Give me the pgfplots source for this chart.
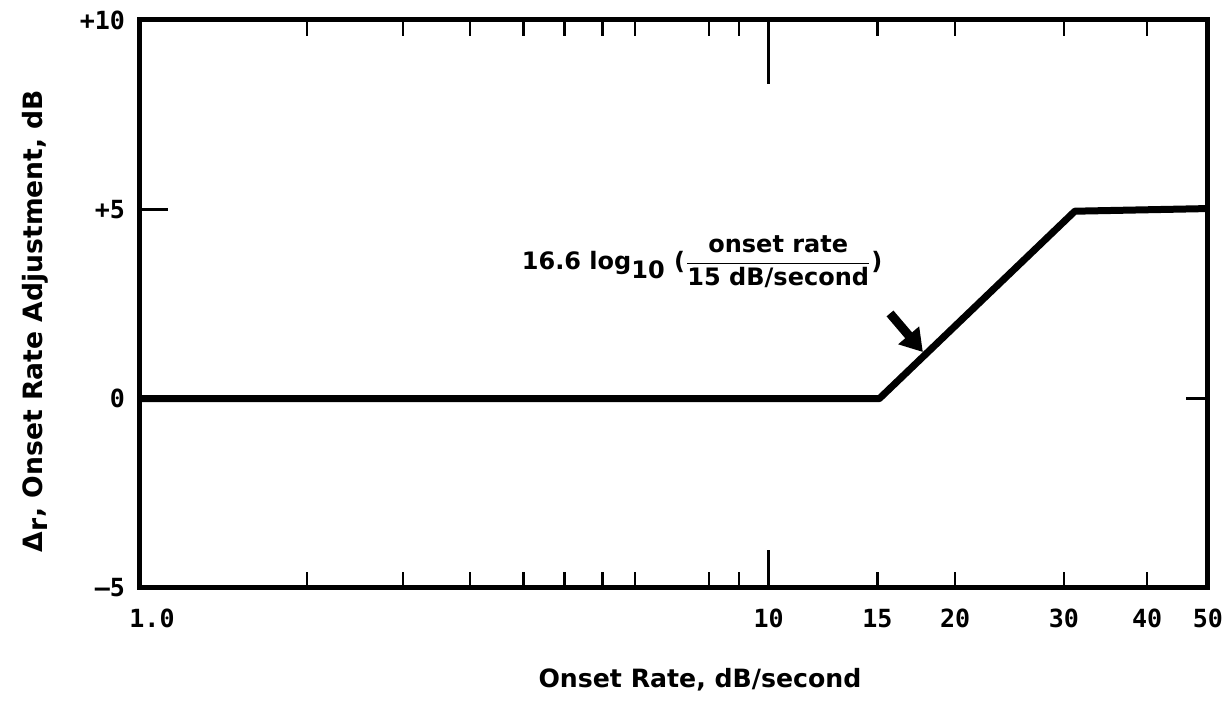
\documentclass[border=0pt]{standalone}
\usepackage{pgfplots}
\pgfplotsset{compat=1.18}
\usetikzlibrary{arrows.meta}
\usepackage{fontspec}
\setmainfont{DejaVu Sans}
\newfontfamily\tickfont{DejaVu Sans Mono}
\begin{document}
\begin{tikzpicture}
\path[use as bounding box] (-70pt,-58pt) rectangle (544pt,294pt);
\begin{axis}[
  at={(0,0)}, anchor=south west,
  scale only axis, width=534pt, height=284pt,
  xmode=log, xmin=1, xmax=50, ymin=-5, ymax=10,
  xtick={1,1.844,2.62,3.35,4.07,4.74,5.45,6.13,8.04,8.97,10,14.9,19.8,29.5,40,50},
  xticklabels={\hspace{12pt}1.0,{},{},{},{},{},{},{},{},{},10,15,20,30,40,50},
  minor xtick={}, minor ytick={},
  ytick={-5,0,5,10},
  yticklabels={–5,0,+5,+10},
  ytick style={draw=none},
  xtick pos=both, tick align=inside,
  major tick length=8pt,
  xtick style={line width=1.4pt, black},
  axis line style={line width=2.5pt},
  ticklabel style={font=\tickfont\bfseries\fontsize{12.5}{14}\selectfont},
  xticklabel style={yshift=-7pt},
  yticklabel style={xshift=-4pt},
]
\addplot[line width=3.5pt, line join=round, black] coordinates {(1,0) (15,0) (30.7,4.95) (50,5.02)};
\draw[line width=1.4pt] (axis cs:10,-5) -- ++(0pt,19pt);
\draw[line width=1.4pt] (axis cs:10,10) -- ++(0pt,-32pt);
\draw[line width=1.4pt] (axis cs:1,5) -- ++(14pt,0pt);
\draw[line width=1.4pt] (axis cs:50,0) -- ++(-11pt,0pt);
\node[font=\bfseries\fontsize{12}{14}\selectfont] at (axis cs:7.84,3.61)
  {16.6 log$_{\textbf{10}}$ ($\displaystyle\frac{\textbf{onset rate}}{\textbf{15 dB/second}}$)};
\draw[line width=4.5pt, -{Triangle[length=11pt,width=13pt]}] (axis cs:15.6,2.25) -- (axis cs:17.6,1.23);
\end{axis}
\node[rotate=90, font=\bfseries\fontsize{13.3}{15}\selectfont] at (-52.5pt,133.5pt)
  {Δ$_{\textbf{r}}$, Onset Rate Adjustment, dB};
\node[font=\bfseries\fontsize{12.6}{15}\selectfont] at (280pt,-46pt) {Onset Rate, dB/second};
\end{tikzpicture}
\end{document}
